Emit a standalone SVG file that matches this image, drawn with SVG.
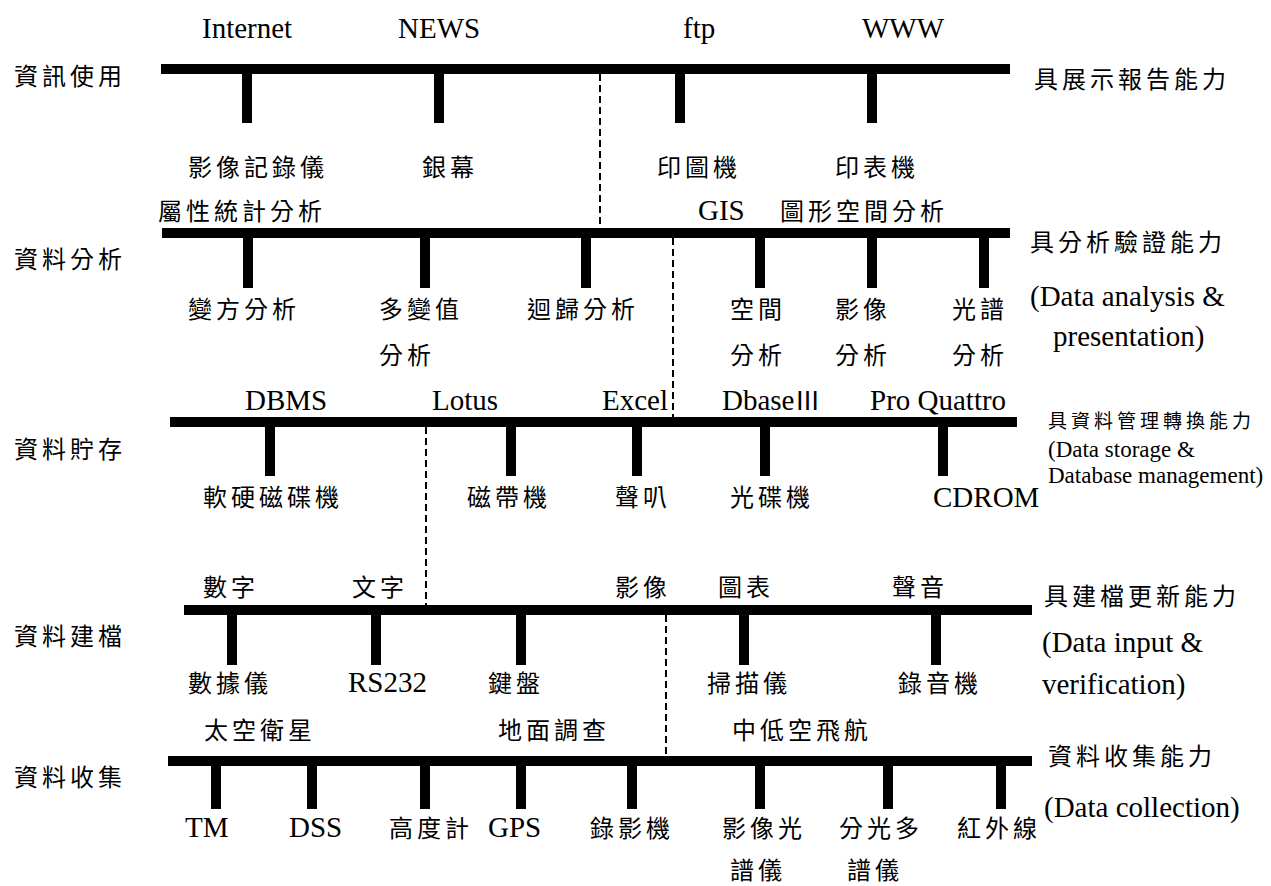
<svg xmlns="http://www.w3.org/2000/svg" width="1271" height="886" viewBox="0 0 1271 886">
<style>
.bg{fill:#fff}
.bar{fill:#000}
.cj{font-family:"Noto Sans CJK TC","Noto Sans CJK SC",sans-serif;font-size:24px;letter-spacing:4px;fill:#000}
.cjs{font-family:"Noto Sans CJK TC","Noto Sans CJK SC",sans-serif;font-size:19px;letter-spacing:4px;fill:#000}
.lt{font-family:"Liberation Serif","Times New Roman",serif;font-size:29px;fill:#000}
.lts{font-family:"Liberation Serif","Times New Roman",serif;font-size:23px;fill:#000}
.rn{font-family:"Noto Sans CJK TC","Noto Sans CJK SC",sans-serif;font-size:26px}
.dash{stroke:#000;stroke-width:2;stroke-dasharray:7,4;fill:none}
</style>
<rect class="bg" x="0" y="0" width="1271" height="886"/>
<g id="connectors">
<line class="dash" x1="600" y1="74" x2="600" y2="228"/>
<line class="dash" x1="673" y1="238" x2="673" y2="417"/>
<line class="dash" x1="426" y1="427" x2="426" y2="605"/>
<line class="dash" x1="666" y1="615" x2="666" y2="756"/>
</g>
<g id="bus1">
<rect class="bar" x="161" y="64" width="849" height="10"/>
<rect class="bar" x="242" y="74" width="10" height="49"/>
<rect class="bar" x="434" y="74" width="10" height="49"/>
<rect class="bar" x="675" y="74" width="10" height="49"/>
<rect class="bar" x="867" y="74" width="10" height="49"/>
</g>
<g id="bus2">
<rect class="bar" x="162" y="228" width="848" height="10"/>
<rect class="bar" x="243" y="238" width="10" height="50"/>
<rect class="bar" x="420" y="238" width="10" height="50"/>
<rect class="bar" x="581" y="238" width="10" height="50"/>
<rect class="bar" x="755" y="238" width="10" height="50"/>
<rect class="bar" x="867" y="238" width="10" height="50"/>
<rect class="bar" x="979" y="238" width="10" height="50"/>
</g>
<g id="bus3">
<rect class="bar" x="170" y="417" width="847" height="10"/>
<rect class="bar" x="265" y="427" width="10" height="49"/>
<rect class="bar" x="506" y="427" width="10" height="49"/>
<rect class="bar" x="632" y="427" width="10" height="49"/>
<rect class="bar" x="760" y="427" width="10" height="49"/>
<rect class="bar" x="938" y="427" width="10" height="49"/>
</g>
<g id="bus4">
<rect class="bar" x="184" y="605" width="848" height="10"/>
<rect class="bar" x="227" y="615" width="10" height="50"/>
<rect class="bar" x="371" y="615" width="10" height="50"/>
<rect class="bar" x="516" y="615" width="10" height="50"/>
<rect class="bar" x="739" y="615" width="10" height="50"/>
<rect class="bar" x="931" y="615" width="10" height="50"/>
</g>
<g id="bus5">
<rect class="bar" x="168" y="756" width="864" height="10"/>
<rect class="bar" x="211" y="766" width="10" height="43"/>
<rect class="bar" x="307" y="766" width="10" height="43"/>
<rect class="bar" x="420" y="766" width="10" height="43"/>
<rect class="bar" x="516" y="766" width="10" height="43"/>
<rect class="bar" x="627" y="766" width="10" height="43"/>
<rect class="bar" x="755" y="766" width="10" height="43"/>
<rect class="bar" x="883" y="766" width="10" height="43"/>
<rect class="bar" x="996" y="766" width="10" height="43"/>
</g>
<g id="layer-labels">
<g id="l1"><text class="cj" x="14" y="85">資訊使用</text></g>
<g id="l2"><text class="cj" x="14" y="268">資料分析</text></g>
<g id="l3"><text class="cj" x="14" y="458">資料貯存</text></g>
<g id="l4"><text class="cj" x="14" y="645">資料建檔</text></g>
<g id="l5"><text class="cj" x="14" y="786">資料收集</text></g>
</g>
<g id="ability-labels">
<g id="a1"><text class="cj" x="1034" y="88">具展示報告能力</text></g>
<g id="a2"><text class="cj" x="1030" y="251">具分析驗證能力</text><text class="lt" x="1030" y="306">(Data analysis &amp;</text><text class="lt" x="1053" y="346">presentation)</text></g>
<g id="a3"><text class="cjs" x="1048" y="428">具資料管理轉換能力</text><text class="lts" x="1048" y="457">(Data storage &amp;</text><text class="lts" x="1048" y="483">Database management)</text></g>
<g id="a4"><text class="cj" x="1044" y="605">具建檔更新能力</text><text class="lt" x="1042" y="652">(Data input &amp;</text><text class="lt" x="1042" y="694">verification)</text></g>
<g id="a5"><text class="cj" x="1048" y="765">資料收集能力</text><text class="lt" x="1044" y="817">(Data collection)</text></g>
</g>
<g id="n-internet"><text class="lt" x="202" y="38">Internet</text></g>
<g id="n-news"><text class="lt" x="398" y="38">NEWS</text></g>
<g id="n-ftp"><text class="lt" x="683" y="38">ftp</text></g>
<g id="n-www"><text class="lt" x="862" y="38">WWW</text></g>
<g id="n-video-rec"><text class="cj" x="188" y="176">影像記錄儀</text></g>
<g id="n-screen"><text class="cj" x="422" y="176">銀幕</text></g>
<g id="n-plotter"><text class="cj" x="657" y="176">印圖機</text></g>
<g id="n-printer"><text class="cj" x="835" y="176">印表機</text></g>
<g id="n-attr"><text class="cj" x="158" y="220">屬性統計分析</text></g>
<g id="n-gis"><text class="lt" x="698" y="220">GIS</text><text class="cj" x="780" y="220">圖形空間分析</text></g>
<g id="n-anova"><text class="cj" x="188" y="318">變方分析</text></g>
<g id="n-multi"><text class="cj" x="379" y="318">多變值</text><text class="cj" x="379" y="364">分析</text></g>
<g id="n-regr"><text class="cj" x="527" y="318">迴歸分析</text></g>
<g id="n-spatial"><text class="cj" x="730" y="318">空間</text><text class="cj" x="730" y="364">分析</text></g>
<g id="n-image"><text class="cj" x="835" y="318">影像</text><text class="cj" x="835" y="364">分析</text></g>
<g id="n-spectral"><text class="cj" x="952" y="318">光譜</text><text class="cj" x="952" y="364">分析</text></g>
<g id="n-dbms"><text class="lt" x="245" y="410">DBMS</text></g>
<g id="n-lotus"><text class="lt" x="432" y="410">Lotus</text></g>
<g id="n-excel"><text class="lt" x="602" y="410">Excel</text></g>
<g id="n-dbase"><text class="lt" x="722" y="410">Dbase<tspan class="rn">Ⅲ</tspan></text></g>
<g id="n-quattro"><text class="lt" x="870" y="410">Pro Quattro</text></g>
<g id="n-disk"><text class="cj" x="203" y="506">軟硬磁碟機</text></g>
<g id="n-tape"><text class="cj" x="467" y="506">磁帶機</text></g>
<g id="n-speaker"><text class="cj" x="615" y="506">聲叭</text></g>
<g id="n-optical"><text class="cj" x="730" y="506">光碟機</text></g>
<g id="n-cdrom"><text class="lt" x="933" y="507">CDROM</text></g>
<g id="n-number"><text class="cj" x="203" y="596">數字</text></g>
<g id="n-text"><text class="cj" x="352" y="596">文字</text></g>
<g id="n-imagein"><text class="cj" x="615" y="596">影像</text></g>
<g id="n-chart"><text class="cj" x="718" y="596">圖表</text></g>
<g id="n-sound"><text class="cj" x="892" y="596">聲音</text></g>
<g id="n-digitizer"><text class="cj" x="188" y="692">數據儀</text></g>
<g id="n-rs232"><text class="lt" x="348" y="692">RS232</text></g>
<g id="n-keyboard"><text class="cj" x="488" y="692">鍵盤</text></g>
<g id="n-scanner"><text class="cj" x="707" y="692">掃描儀</text></g>
<g id="n-recorder"><text class="cj" x="898" y="692">錄音機</text></g>
<g id="n-satellite"><text class="cj" x="204" y="739">太空衛星</text></g>
<g id="n-survey"><text class="cj" x="498" y="739">地面調查</text></g>
<g id="n-aerial"><text class="cj" x="732" y="739">中低空飛航</text></g>
<g id="n-tm"><text class="lt" x="185" y="837">TM</text></g>
<g id="n-dss"><text class="lt" x="289" y="837">DSS</text></g>
<g id="n-altimeter"><text class="cj" x="389" y="837">高度計</text></g>
<g id="n-gps"><text class="lt" x="488" y="837">GPS</text></g>
<g id="n-vcr"><text class="cj" x="590" y="837">錄影機</text></g>
<g id="n-imgspec"><text class="cj" x="722" y="837">影像光</text><text class="cj" x="730" y="879">譜儀</text></g>
<g id="n-multispec"><text class="cj" x="839" y="837">分光多</text><text class="cj" x="847" y="879">譜儀</text></g>
<g id="n-infrared"><text class="cj" x="957" y="837">紅外線</text></g>
</svg>
